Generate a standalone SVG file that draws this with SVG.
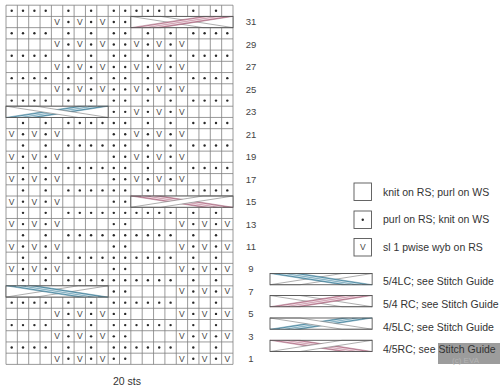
<svg xmlns="http://www.w3.org/2000/svg" width="500" height="388" viewBox="0 0 500 388">
<style>
.grid{fill:none;stroke:#808080;stroke-width:0.8}
.d{fill:#2a2a2a}
.v{font-family:"Liberation Sans",Arial,sans-serif;font-size:8.5px;fill:#444;text-anchor:middle}
.wb{fill:#fff;stroke:#777;stroke-width:0.6}
.bb{fill:#5d98b0;stroke:#3f7890;stroke-width:0.5}
.pb{fill:#c4869c;stroke:#9a5f75;stroke-width:0.5}
.ws{stroke:#fff;stroke-width:0.7;fill:none}
.box{fill:none;stroke:#555;stroke-width:0.9}
.lbl{font-family:"Liberation Sans",Arial,sans-serif;font-size:9.5px;fill:#444;text-anchor:middle}
.lt{font-family:"Liberation Sans",Arial,sans-serif;font-size:10.5px;fill:#333}
</style>
<defs>
<polygon id="bTLBR" points="0,0 30,0 102.15,11.225 72.15,11.225"/>
<polygon id="bBLTR" points="0,11.225 30,11.225 102.15,0 72.15,0"/>
<g id="LC54"><rect width="102.15" height="11.225" fill="#fff"/><use href="#bBLTR" class="wb"/><use href="#bTLBR" class="bb"/><path class="ws" d="M10,0L82.15,11.225M20,0L92.15,11.225"/><rect width="102.15" height="11.225" class="box"/></g>
<g id="RC54"><rect width="102.15" height="11.225" fill="#fff"/><use href="#bTLBR" class="wb"/><use href="#bBLTR" class="pb"/><path class="ws" d="M10,11.225L82.15,0M20,11.225L92.15,0"/><rect width="102.15" height="11.225" class="box"/></g>
<g id="LC45"><rect width="102.15" height="11.225" fill="#fff"/><use href="#bBLTR" class="bb"/><path class="ws" d="M10,11.225L82.15,0M20,11.225L92.15,0"/><use href="#bTLBR" class="wb"/><rect width="102.15" height="11.225" class="box"/></g>
<g id="RC45"><rect width="102.15" height="11.225" fill="#fff"/><use href="#bTLBR" class="pb"/><path class="ws" d="M10,0L82.15,11.225M20,0L92.15,11.225"/><use href="#bBLTR" class="wb"/><rect width="102.15" height="11.225" class="box"/></g>
<g id="LeA"><circle class="d" cx="11.7" cy="0" r="1.2"/><circle class="d" cx="23" cy="0" r="1.2"/><circle class="d" cx="34.4" cy="0" r="1.2"/><circle class="d" cx="45.7" cy="0" r="1.2"/><circle class="d" cx="68.4" cy="0" r="1.2"/><circle class="d" cx="91.1" cy="0" r="1.2"/><circle class="d" cx="113.8" cy="0" r="1.2"/><circle class="d" cx="125.2" cy="0" r="1.2"/></g>
<g id="LoA"><text class="v" x="57.1" y="3">V</text><text class="v" x="79.8" y="3">V</text><text class="v" x="102.5" y="3">V</text><circle class="d" cx="68.4" cy="0" r="1.2"/><circle class="d" cx="91.1" cy="0" r="1.2"/><circle class="d" cx="113.8" cy="0" r="1.2"/><circle class="d" cx="125.2" cy="0" r="1.2"/></g>
<g id="LeB"><circle class="d" cx="23" cy="0" r="1.2"/><circle class="d" cx="45.7" cy="0" r="1.2"/><circle class="d" cx="68.4" cy="0" r="1.2"/><circle class="d" cx="79.8" cy="0" r="1.2"/><circle class="d" cx="91.1" cy="0" r="1.2"/><circle class="d" cx="102.5" cy="0" r="1.2"/><circle class="d" cx="113.8" cy="0" r="1.2"/><circle class="d" cx="125.2" cy="0" r="1.2"/></g>
<g id="LoB"><text class="v" x="11.7" y="3">V</text><text class="v" x="34.4" y="3">V</text><text class="v" x="57.1" y="3">V</text><circle class="d" cx="23" cy="0" r="1.2"/><circle class="d" cx="45.7" cy="0" r="1.2"/><circle class="d" cx="113.8" cy="0" r="1.2"/><circle class="d" cx="125.2" cy="0" r="1.2"/></g>
<g id="Lc"><circle class="d" cx="113.8" cy="0" r="1.2"/><circle class="d" cx="125.2" cy="0" r="1.2"/></g>
<g id="RP"><circle class="d" cx="147.9" cy="0" r="1.2"/><circle class="d" cx="170.6" cy="0" r="1.2"/><circle class="d" cx="193.3" cy="0" r="1.2"/><circle class="d" cx="204.6" cy="0" r="1.2"/><circle class="d" cx="216" cy="0" r="1.2"/><circle class="d" cx="227.3" cy="0" r="1.2"/></g>
<g id="RoP"><text class="v" x="136.5" y="3">V</text><text class="v" x="159.2" y="3">V</text><text class="v" x="181.9" y="3">V</text><circle class="d" cx="147.9" cy="0" r="1.2"/><circle class="d" cx="170.6" cy="0" r="1.2"/></g>
<g id="RQ"><circle class="d" cx="136.5" cy="0" r="1.2"/><circle class="d" cx="147.9" cy="0" r="1.2"/><circle class="d" cx="159.2" cy="0" r="1.2"/><circle class="d" cx="170.6" cy="0" r="1.2"/><circle class="d" cx="193.3" cy="0" r="1.2"/><circle class="d" cx="216" cy="0" r="1.2"/></g>
<g id="RoQ"><text class="v" x="181.9" y="3">V</text><text class="v" x="204.6" y="3">V</text><text class="v" x="227.3" y="3">V</text><circle class="d" cx="193.3" cy="0" r="1.2"/><circle class="d" cx="216" cy="0" r="1.2"/></g>
</defs>
<rect width="500" height="388" fill="#fff"/>
<g id="chart-grid">
<path class="grid" d="M6,5.2V364.4M17.35,5.2V364.4M28.7,5.2V364.4M40.05,5.2V364.4M51.4,5.2V364.4M62.75,5.2V364.4M74.1,5.2V364.4M85.45,5.2V364.4M96.8,5.2V364.4M108.15,5.2V364.4M119.5,5.2V364.4M130.85,5.2V364.4M142.2,5.2V364.4M153.55,5.2V364.4M164.9,5.2V364.4M176.25,5.2V364.4M187.6,5.2V364.4M198.95,5.2V364.4M210.3,5.2V364.4M221.65,5.2V364.4M233,5.2V364.4M6,5.2H233M6,16.425H233M6,27.65H233M6,38.875H233M6,50.1H233M6,61.325H233M6,72.55H233M6,83.775H233M6,95H233M6,106.225H233M6,117.45H233M6,128.675H233M6,139.9H233M6,151.125H233M6,162.35H233M6,173.575H233M6,184.8H233M6,196.025H233M6,207.25H233M6,218.475H233M6,229.7H233M6,240.925H233M6,252.15H233M6,263.375H233M6,274.6H233M6,285.825H233M6,297.05H233M6,308.275H233M6,319.5H233M6,330.725H233M6,341.95H233M6,353.175H233M6,364.4H233"/>
</g>
<g id="chart-symbols">
<use href="#LeA" y="10.81"/><use href="#RQ" y="10.81"/>
<use href="#LoA" y="22.04"/>
<use href="#LeA" y="33.26"/><use href="#RP" y="33.26"/>
<use href="#LoA" y="44.49"/><use href="#RoP" y="44.49"/>
<use href="#LeA" y="55.71"/><use href="#RP" y="55.71"/>
<use href="#LoA" y="66.94"/><use href="#RoP" y="66.94"/>
<use href="#LeA" y="78.16"/><use href="#RP" y="78.16"/>
<use href="#LoA" y="89.39"/><use href="#RoP" y="89.39"/>
<use href="#LeA" y="100.61"/><use href="#RP" y="100.61"/>
<use href="#Lc" y="111.84"/><use href="#RoP" y="111.84"/>
<use href="#LeB" y="123.06"/><use href="#RP" y="123.06"/>
<use href="#LoB" y="134.29"/><use href="#RoP" y="134.29"/>
<use href="#LeB" y="145.51"/><use href="#RP" y="145.51"/>
<use href="#LoB" y="156.74"/><use href="#RoP" y="156.74"/>
<use href="#LeB" y="167.96"/><use href="#RP" y="167.96"/>
<use href="#LoB" y="179.19"/><use href="#RoP" y="179.19"/>
<use href="#LeB" y="190.41"/><use href="#RP" y="190.41"/>
<use href="#LoB" y="201.64"/>
<use href="#LeB" y="212.86"/><use href="#RQ" y="212.86"/>
<use href="#LoB" y="224.09"/><use href="#RoQ" y="224.09"/>
<use href="#LeB" y="235.31"/><use href="#RQ" y="235.31"/>
<use href="#LoB" y="246.54"/><use href="#RoQ" y="246.54"/>
<use href="#LeB" y="257.76"/><use href="#RQ" y="257.76"/>
<use href="#LoB" y="268.99"/><use href="#RoQ" y="268.99"/>
<use href="#LeB" y="280.21"/><use href="#RQ" y="280.21"/>
<use href="#Lc" y="291.44"/><use href="#RoQ" y="291.44"/>
<use href="#LeA" y="302.66"/><use href="#RQ" y="302.66"/>
<use href="#LoA" y="313.89"/><use href="#RoQ" y="313.89"/>
<use href="#LeA" y="325.11"/><use href="#RQ" y="325.11"/>
<use href="#LoA" y="336.34"/><use href="#RoQ" y="336.34"/>
<use href="#LeA" y="347.56"/><use href="#RQ" y="347.56"/>
<use href="#LoA" y="358.79"/><use href="#RoQ" y="358.79"/>
</g>
<g id="chart-cables">
<use href="#RC54" x="130.85" y="16.425"/>
<use href="#LC45" x="6" y="106.225"/>
<use href="#RC45" x="130.85" y="196.025"/>
<use href="#LC54" x="6" y="285.825"/>
</g>
<g id="row-labels">
<text class="lbl" x="251" y="25.4">31</text>
<text class="lbl" x="251" y="47.9">29</text>
<text class="lbl" x="251" y="70.3">27</text>
<text class="lbl" x="251" y="92.8">25</text>
<text class="lbl" x="251" y="115.2">23</text>
<text class="lbl" x="251" y="137.7">21</text>
<text class="lbl" x="251" y="160.1">19</text>
<text class="lbl" x="251" y="182.6">17</text>
<text class="lbl" x="251" y="205">15</text>
<text class="lbl" x="251" y="227.5">13</text>
<text class="lbl" x="251" y="249.9">11</text>
<text class="lbl" x="251" y="272.4">9</text>
<text class="lbl" x="251" y="294.8">7</text>
<text class="lbl" x="251" y="317.3">5</text>
<text class="lbl" x="251" y="339.7">3</text>
<text class="lbl" x="251" y="362.2">1</text>
</g>
<text id="width-label" class="lt" x="127" y="385" text-anchor="middle">20 sts</text>
<g id="legend">
<g id="leg-knit"><rect x="354" y="183" width="17.5" height="17.5" class="box"/><text class="lt" x="383" y="195.5">knit on RS; purl on WS</text></g>
<g id="leg-purl"><rect x="354" y="211" width="17.5" height="17.5" class="box"/><circle class="d" cx="362.75" cy="219.75" r="1.2"/><text class="lt" x="383" y="223.1">purl on RS; knit on WS</text></g>
<g id="leg-slip"><rect x="354" y="238.5" width="17.5" height="17.5" class="box"/><text class="v" x="362.75" y="250.3">V</text><text class="lt" x="383" y="250.5">sl 1 pwise wyb on RS</text></g>
<rect x="438" y="343" width="62" height="21" fill="#9c9c9c"/>
<text x="452" y="362.6" style="font-family:'Liberation Sans',Arial,sans-serif;font-size:8px;fill:#b4b4b4">(c) EVA</text>
<g id="leg-54lc"><use href="#LC54" x="270" y="273.5"/><text class="lt" x="383" y="284.8">5/4LC; see Stitch Guide</text></g>
<g id="leg-54rc"><use href="#RC54" x="270" y="295.5"/><text class="lt" x="383" y="307.8">5/4 RC; see Stitch Guide</text></g>
<g id="leg-45lc"><use href="#LC45" x="270" y="318"/><text class="lt" x="383" y="330.5">4/5LC; see Stitch Guide</text></g>
<g id="leg-45rc"><use href="#RC45" x="270" y="340.3"/><text class="lt" x="383" y="353.1">4/5RC; see Stitch Guide</text></g>
</g>
</svg>
